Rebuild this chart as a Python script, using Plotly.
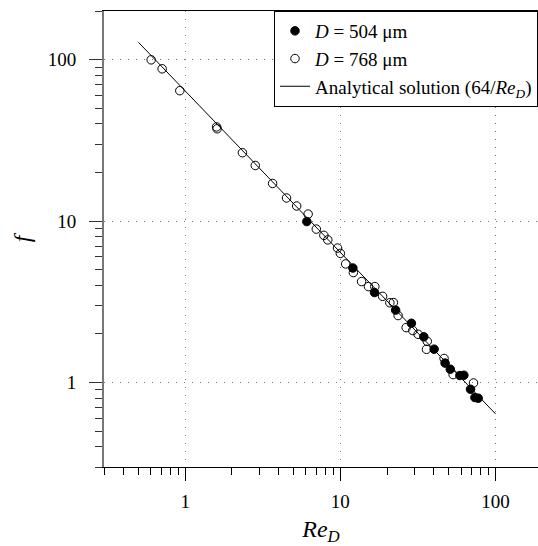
import math
import plotly.graph_objects as go

# D = 504 um (filled)
re_504 = [6.08, 12.04, 16.6, 22.7, 28.7, 34.5, 40.2, 47.3, 51.1, 58.9, 62.5, 69.0, 73.6, 77.3]
f_504 = [9.93, 5.12, 3.61, 2.81, 2.33, 1.92, 1.61, 1.32, 1.21, 1.105, 1.11, 0.909, 0.808, 0.80]

# D = 768 um (open)
re_768 = [0.604, 0.711, 0.924, 1.594, 1.607, 2.34, 2.83, 3.66, 4.50, 5.23, 6.20, 7.00, 7.83,
          8.30, 9.59, 10.0, 10.82, 12.13, 13.70, 15.17, 16.68, 18.71, 20.84, 21.96, 23.57,
          26.55, 29.3, 31.7, 36.3, 35.9, 46.6, 53.3, 72.1]
f_768 = [99.7, 87.7, 64.2, 38.3, 37.3, 26.5, 22.1, 17.1, 13.9, 12.4, 11.05, 8.92, 8.16,
         7.65, 6.81, 6.31, 5.43, 4.80, 4.22, 3.93, 3.93, 3.42, 3.12, 3.13, 2.60,
         2.19, 2.10, 1.99, 1.80, 1.607, 1.41, 1.12, 0.994]

# analytical solution 64/Re
line_re = [0.5, 1, 10, 100]
line_f = [64.0 / r for r in line_re]

x_tickvals = [1, 10, 100]
y_tickvals = [1, 10, 100]

FONT = "Liberation Serif"

fig = go.Figure()
fig.add_trace(go.Scatter(
    x=re_504, y=f_504, mode="markers", name="<i>D</i> = 504 μm",
    marker=dict(symbol="circle", size=8.5, color="black", line=dict(color="black", width=1)),
))
fig.add_trace(go.Scatter(
    x=re_768, y=f_768, mode="markers", name="<i>D</i> = 768 μm",
    marker=dict(symbol="circle-open", size=8.5, color="black", line=dict(color="black", width=1)),
))
fig.add_trace(go.Scatter(
    x=line_re, y=line_f, mode="lines",
    name="Analytical solution (64/<i>Re</i><sub><i>D</i></sub>)",
    line=dict(color="black", width=1),
))

fig.update_layout(
    width=538, height=546,
    margin=dict(l=104, r=0, t=11, b=79),
    plot_bgcolor="white", paper_bgcolor="white",
    font=dict(family=FONT, size=18, color="black"),
    showlegend=True,
    legend=dict(
        x=1, xanchor="right", y=1, yanchor="top",
        bordercolor="black", borderwidth=1, bgcolor="white",
        font=dict(family=FONT, size=19, color="black"),
        tracegroupgap=0, itemwidth=30,
    ),
)

fig.update_xaxes(
    type="log", range=[math.log10(0.3), math.log10(0.3) + 434 / 155.2],
    tickvals=x_tickvals, ticktext=[str(v) for v in x_tickvals],
    ticks="outside", ticklen=13, tickcolor="black", tickwidth=1,
    showline=True, linecolor="black", linewidth=1, mirror=True,
    showgrid=True, gridcolor="#777777", griddash="1px,7px", gridwidth=1,
    minor=dict(ticks="outside", ticklen=7, tickcolor="black", tickwidth=1, dtick="D1", showgrid=False),
    tickfont=dict(family=FONT, size=19),
    ticklabelstandoff=4,
    zeroline=False,
    title=dict(text="<i>Re</i><sub><i>D</i></sub>", font=dict(family=FONT, size=24), standoff=12),
)
fig.update_yaxes(
    type="log", range=[math.log10(0.3), math.log10(200)],
    tickvals=y_tickvals, ticktext=[str(v) for v in y_tickvals],
    ticks="outside", ticklen=13, tickcolor="#333333", tickwidth=1,
    showline=True, linecolor="#777777", linewidth=2, mirror=False,
    showgrid=True, gridcolor="#777777", griddash="1px,7px", gridwidth=1,
    minor=dict(ticks="outside", ticklen=7, tickcolor="#333333", tickwidth=1, dtick="D1", showgrid=False),
    tickfont=dict(family=FONT, size=19),
    ticklabelstandoff=9,
    zeroline=False,
    title=dict(text="<i>f</i>", font=dict(family=FONT, size=24), standoff=10),
)

fig.write_html("out.html")
